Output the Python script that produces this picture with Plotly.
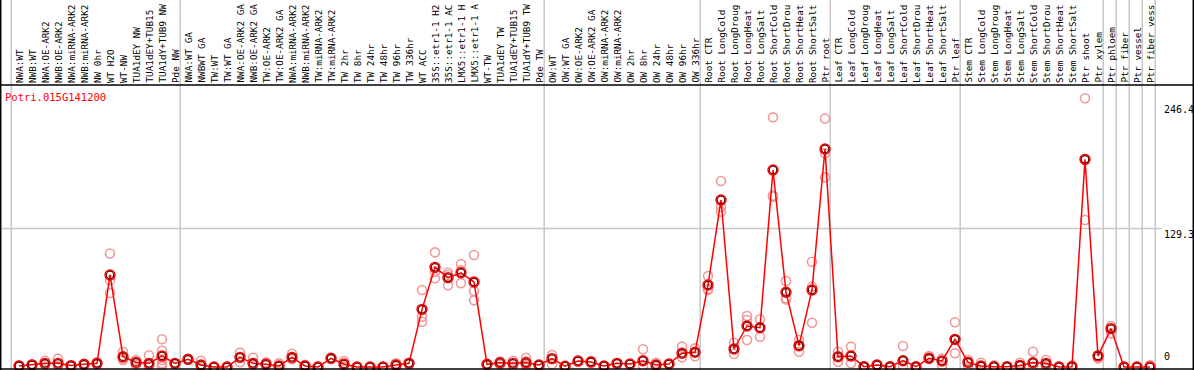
import plotly.graph_objects as go

labels = [
    "NWA:WT", "NWB:WT", "NWA:OE-ARK2", "NWB:OE-ARK2", "NWA:miRNA-ARK2", "NWB:miRNA-ARK2",
    "NW 0hr", "WT H2O", "WT-NW", "TUA1dEY NW", "TUA1dEY+TUB15 NW", "TUA1dY+TUB9 NW", "Pde NW",
    "NWA:WT GA", "NWBWT GA", "TW:WT", "TW:WT GA", "NWA:OE-ARK2 GA", "NWB:OE-ARK2 GA",
    "TW:OE-ARK2", "TW:OE-ARK2 GA", "NWA:miRNA-ARK2 GA", "NWB:miRNA-ARK2 GA", "TW:miRNA-ARK2",
    "TW:miRNA-ARK2", "TW 2hr", "TW 8hr", "TW 24hr", "TW 48hr", "TW 96hr", "TW 336hr", "WT ACC",
    "35S::etr1-1 H2O", "35S::etr1-1 ACC", "LMX5::etr1-1 H2O", "LMX5::etr1-1 ACC", "WT-TW",
    "TUA1dEY TW", "TUA1dEY+TUB15 TW", "TUA1dY+TUB9 TW", "Pde TW",
    "OW:WT", "OW:WT GA", "OW:OE-ARK2", "OW:OE-ARK2 GA", "OW:miRNA-ARK2", "OW:miRNA-ARK2",
    "OW 2hr", "OW 8hr", "OW 24hr", "OW 48hr", "OW 96hr", "OW 336hr",
    "Root CTR", "Root LongCold", "Root LongDrought", "Root LongHeat", "Root LongSalt",
    "Root ShortCold", "Root ShortDrought", "Root ShortHeat", "Root ShortSalt", "Ptr root",
    "Leaf CTR", "Leaf LongCold", "Leaf LongDrought", "Leaf LongHeat", "Leaf LongSalt",
    "Leaf ShortCold", "Leaf ShortDrought", "Leaf ShortHeat", "Leaf ShortSalt", "Ptr leaf",
    "Stem CTR", "Stem LongCold", "Stem LongDrought", "Stem LongHeat", "Stem LongSalt",
    "Stem ShortCold", "Stem ShortDrought", "Stem ShortHeat", "Stem ShortSalt", "Ptr shoot",
    "Ptr xylem", "Ptr phloem", "Ptr fiber", "Ptr vessel", "Ptr fiber vessel",
]

means = [
    1, 2, 3.4, 3.4, 1.3, 2.5, 3.4, 85.9, 9.6, 4.3, 3.4, 10.3, 3.4,
    7.2, 1.9, 0, 0, 9, 3.4, 2.5, 1, 9, 1, 0, 8.1, 2.8, 0, 0, 0, 1.9, 3.4,
    53.8, 93.0, 83.4, 88.0, 79.3, 2.5, 4, 3.4, 4, 1.9,
    7.8, 0.7, 5.6, 4.7, 1, 3.4, 2.8, 5.9, 1.9, 2.8, 12.8, 13.7,
    76.5, 155.9, 16.8, 38.3, 36.7, 183.9, 69.7, 19.9, 71.9, 203.5,
    9.6, 10.3, 0.3, 1.9, 0.3, 5.9, 0.3, 8.1, 5.6, 25.8,
    4.3, 1, 0.3, 0.3, 1.5, 4, 3.4, 0, 0.3, 193.8,
    10.3, 35.8, 0, 0, 0,
]

reps = [
    [0.5, 1.5], [2, 2.5], [5.9, 2], [7.8, 1], [1.3, 1], [2.5, 2], [4.5, 2.5], [106, 81, 69],
    [14.3, 6.5, 8], [6.5, 2], [10.9, 2, 0.5], [25.9, 15.2, 6.5, 3.4, 2, 0.5], [3.4, 3],
    [7.2, 6.5], [5.9, 0], [0, 0], [0, 0.5], [13.4, 4.5], [8.7, 2], [4.5, 3.4], [3.4, 0.5],
    [12.4, 7.2], [2, 0.5], [0, 0.5], [8.1, 7.5], [5.6, 2, 0.5], [0, 0.3], [0, 0.3], [0, 0.3],
    [3.4, 0.5], [4, 3], [71.9, 46.9, 42.3], [107, 82.8, 89], [88, 85.9, 76.3],
    [96.1, 90.3, 78.1], [104.5, 70.9, 62.2], [2.5, 2], [5.2, 2], [5.9, 0.5], [8.7, 5.2, 2, 0.5],
    [1.9, 1.5], [11.2, 2.5], [0.5, 1], [5.6, 5], [5.6, 4],
    [1, 0.5], [3.4, 3], [2.8, 2.5], [16.5, 0.5], [4, 0.5], [2.8, 2.5], [19, 9], [17.4, 10],
    [84.9, 71.9, 72.7], [173.6, 149.6, 145], [22.7, 12.1], [47.6, 43.9, 25.2], [44.5, 28.3],
    [233, 160, 159], [80.3, 64.1, 63], [25.2, 14.3, 19.9], [98.3, 75, 41.3], [232, 199.4, 177],
    [14.3, 4.9], [19, 3.4], [0.3, 0.5], [1.9, 1.5], [0.3, 0.5], [19.6, 0.5], [0.3, 0.5],
    [10.3, 7.5], [8, 1.5], [41.7, 12.8, 25.8],
    [6.5, 0.5], [4, 0], [1.5, 0.3], [0.3, 0.5], [4, 1.5], [14.3, 0.5], [6.5, 1.5], [0.3, 0.5],
    [1.5, 0.5], [250.8, 193.4, 137.2],
    [11, 8], [38.3, 31.4], [0, 0.3], [0, 0.5], [1.9, 0.5],
]

separators = [-1, 12, 40, 52, 62, 72, 83, 84, 85, 86, 87]
tick_values = [246.4, 129.3, 0]
tick_labels = ["246.4", "129.3", "0"]
gene = "Potri.015G141200"
header_chars = 14  # the header band only has room for this many characters

# ---------- layout geometry (pixels) ----------
W, H = 1194, 370
x0_px, step_px = 19.0, 13.0
y0_px, ypp = 367.0, 1.0714
xmin = -x0_px / step_px
xmax = xmin + W / step_px
ymax = y0_px / ypp
ymin = -(H - y0_px) / ypp


def ypaper(py):
    return 1 - py / H


idx = list(range(len(labels)))
rx, ry = [], []
for i, vals in enumerate(reps):
    for v in vals:
        rx.append(i)
        ry.append(v)

fig = go.Figure()
fig.add_trace(go.Scatter(
    x=rx, y=ry, mode="markers", hoverinfo="skip",
    marker=dict(symbol="circle-open", size=9, color="#f09a9a", line=dict(width=1.6, color="#f09a9a")),
))
fig.add_trace(go.Scatter(
    x=idx, y=means, mode="lines+markers", text=labels,
    line=dict(color="#ff0000", width=1.5),
    marker=dict(symbol="circle-open", size=10, color="#ff0000", line=dict(width=1.4, color="#ff0000")),
))
fig.add_trace(go.Scatter(
    x=idx, y=means, mode="markers", hoverinfo="skip",
    marker=dict(symbol="circle-open", size=7.5, color="#6a0000", line=dict(width=1.2, color="#6a0000")),
))

shapes = []
for s in separators:
    shapes.append(dict(type="line", xref="x", yref="paper", x0=s + 0.4, x1=s + 0.4, y0=0, y1=1,
                       line=dict(color="#c8c8c8", width=1.5), layer="below"))
shapes.append(dict(type="line", xref="paper", yref="y", x0=0, x1=1162 / W, y0=129.3, y1=129.3,
                   line=dict(color="#c8c8c8", width=1.5), layer="below"))
shapes.append(dict(type="line", xref="paper", yref="paper", x0=0, x1=1, y0=ypaper(85), y1=ypaper(85),
                   line=dict(color="black", width=1.5)))
shapes.append(dict(type="line", xref="paper", yref="paper", x0=0, x1=1, y0=ypaper(369), y1=ypaper(369),
                   line=dict(color="black", width=1.5)))
shapes.append(dict(type="line", xref="paper", yref="paper", x0=0.7 / W, x1=0.7 / W, y0=0, y1=1,
                   line=dict(color="black", width=1.5)))
shapes.append(dict(type="line", xref="paper", yref="paper", x0=1193.3 / W, x1=1193.3 / W, y0=0, y1=1,
                   line=dict(color="black", width=1.5)))

annotations = []
for i, lab in enumerate(labels):
    annotations.append(dict(
        x=i, xref="x", y=ypaper(84), yref="paper", text=lab[:header_chars].rstrip(), textangle=-90,
        showarrow=False, xanchor="center", yanchor="bottom", borderpad=0,
        font=dict(family="DejaVu Sans Mono", size=9.3, color="black"),
    ))
for v, t in zip(tick_values, tick_labels):
    annotations.append(dict(
        x=1163 / W, xref="paper", y=v if v > 0 else 4, yref="y", text=t, showarrow=False,
        xanchor="left", yanchor="top" if v > 0 else "bottom", borderpad=0,
        font=dict(family="DejaVu Sans Mono", size=10, color="black"),
    ))
annotations.append(dict(
    x=4 / W, xref="paper", y=ypaper(97), yref="paper", text=gene, showarrow=False,
    xanchor="left", yanchor="middle", borderpad=0,
    font=dict(family="DejaVu Sans Mono", size=10.5, color="#ff0000"),
))

fig.update_layout(
    width=W, height=H, margin=dict(l=0, r=0, t=0, b=0),
    paper_bgcolor="white", plot_bgcolor="white", showlegend=False,
    xaxis=dict(range=[xmin, xmax], visible=False, fixedrange=True),
    yaxis=dict(range=[ymin, ymax], visible=False, fixedrange=True),
    shapes=shapes, annotations=annotations,
)

fig.write_html(
    "out.html",
    config={"displayModeBar": False, "staticPlot": True},
    post_script="document.body.style.margin='0';document.body.style.overflow='hidden';",
)
